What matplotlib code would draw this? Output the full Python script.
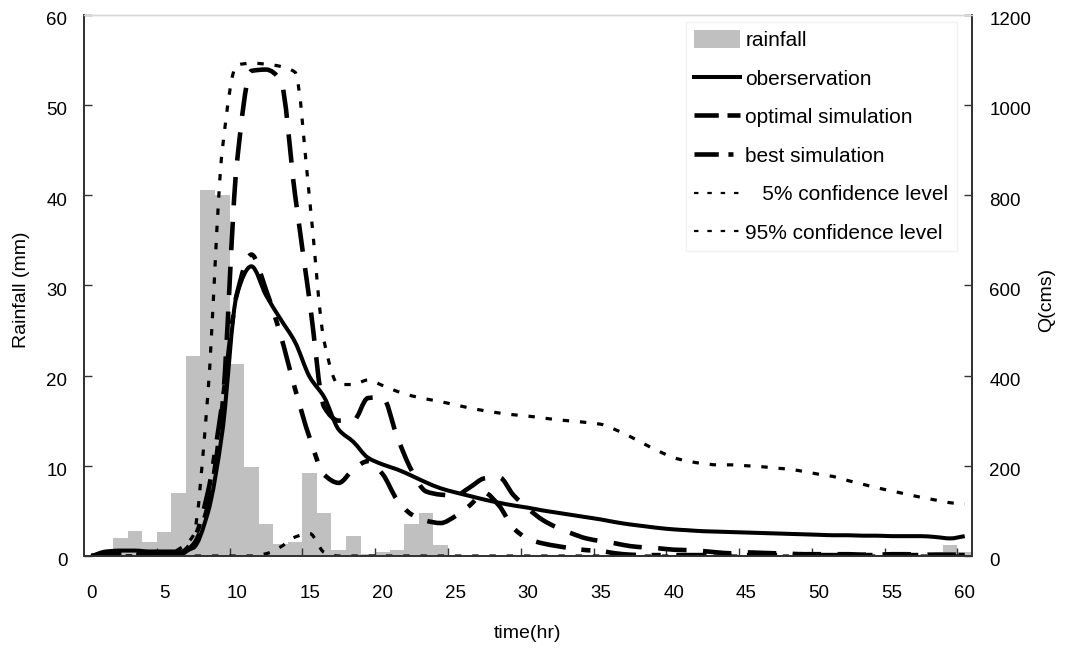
import numpy as np
import matplotlib
matplotlib.use("Agg")
import matplotlib.pyplot as plt
import matplotlib.transforms as mtransforms
from matplotlib.path import Path
from matplotlib.patches import PathPatch, Patch
from matplotlib.lines import Line2D

plt.rcParams['font.family'] = ['Liberation Sans', 'DejaVu Sans']

# hourly record, t = 0..60 hr
hours = list(range(61))

rain = [0, 0, 2.0, 2.8, 1.6, 2.7, 7.0, 22.2, 40.6, 40.0,
        21.3, 9.9, 3.5, 1.3, 1.6, 9.2, 4.8, 0.7, 2.2, 0.2,
        0.4, 0.7, 3.5, 4.8, 1.2, 0, 0, 0, 0, 0,
        0, 0, 0, 0, 0, 0, 0, 0, 0, 0,
        0, 0, 0, 0, 0, 0, 0, 0, 0, 0,
        0, 0, 0, 0, 0, 0.3, 0, 0, 0, 1.2,
        0.4]

q_obs = [0, 10, 12, 12, 10, 10, 10, 18, 95, 275,
         580, 642, 578, 525, 474, 397, 352, 280, 253, 218,
         203, 192, 178, 163, 150, 141, 133, 125, 118, 112,
         107, 101, 96, 91, 86, 81, 75, 70, 66, 62,
         59, 57, 55, 54, 53, 52, 51, 50, 49, 48,
         47, 46, 46, 45, 45, 44, 44, 44, 42, 39,
         44]

q_opt = [0, 2, 3, 3, 2, 2, 3, 25, 110, 330,
         870, 1075, 1078, 1055, 800, 565, 330, 300, 300, 350,
         352, 265, 190, 143, 136, 134, 152, 172, 175, 135,
         105, 80, 63, 50, 39, 33, 28, 22, 19, 17,
         14, 13, 11, 8, 6, 8, 7, 6, 5, 4,
         4, 4, 4, 3, 3, 4, 4, 3, 3, 3,
         3]

q_best = [0, 3, 5, 5, 5, 5, 5, 35, 140, 340,
          580, 668, 590, 490, 370, 262, 180, 162, 192, 210,
          182, 125, 92, 78, 73, 88, 112, 140, 112, 62,
          38, 28, 22, 17, 13, 11, 6, 3, 2, 2,
          2, 2, 2, 2, 2, 2, 2, 2, 2, 2,
          2, 2, 2, 2, 2, 2, 2, 2, 2, 2,
          2]

q_lo = [0, 0, 0, 0, 0, 0, 0, 0, 0, 0,
        0, 0, 5, 20, 42, 50, 8, 0, 0, 0,
        0, 0, 0, 0, 0, 0, 0, 0, 0, 0,
        0, 0, 0, 0, 0, 0, 0, 0, 0, 0,
        0, 0, 0, 0, 0, 0, 0, 0, 0, 0,
        0, 0, 0, 0, 0, 0, 0, 0, 0, 0,
        0]

q_hi = [0, 0, 0, 0, 0, 0, 15, 45, 355, 900,
        1088, 1092, 1090, 1085, 1072, 790, 475, 380, 380, 390,
        378, 365, 355, 348, 342, 335, 328, 322, 317, 313,
        310, 306, 302, 299, 296, 292, 280, 265, 248, 232,
        218, 210, 205, 202, 202, 200, 198, 195, 192, 187,
        181, 176, 167, 159, 151, 144, 137, 130, 124, 118,
        115]


def smooth_path(x, y):
    # monotone cubic through the points (no overshoot), as Bezier segments
    x = np.asarray(x, float)
    y = np.asarray(y, float)
    n = len(x)
    h = np.diff(x)
    d = np.diff(y) / h
    m = np.zeros(n)
    m[0], m[-1] = d[0], d[-1]
    for k in range(1, n - 1):
        if d[k - 1] * d[k] > 0:
            m[k] = 2 * d[k - 1] * d[k] / (d[k - 1] + d[k])
    verts = [(x[0], y[0])]
    codes = [Path.MOVETO]
    for i in range(n - 1):
        c1 = (x[i] + h[i] / 3, y[i] + m[i] * h[i] / 3)
        c2 = (x[i + 1] - h[i] / 3, y[i + 1] - m[i + 1] * h[i] / 3)
        verts += [c1, c2, (x[i + 1], y[i + 1])]
        codes += [Path.CURVE4] * 3
    return Path(verts, codes)


W, H = 1072, 653
fig = plt.figure(figsize=(W / 100, H / 100), dpi=100)
ax = fig.add_axes([84 / W, 1 - 556 / H, (972 - 84) / W, (556 - 14.5) / H])
ax2 = ax.twinx()

ax.bar(hours, rain, width=1.0, color='#c0c0c0', zorder=1)
ax.set_xlim(-0.5, 60.5)
ax.set_ylim(0, 60)
ax2.set_ylim(0, 1200)

styles = {
    'obs': dict(lw=2.9, ls='-'),
    'opt': dict(lw=3.3, ls=(0, (6.2, 3.6))),
    'best': dict(lw=3.3, ls=(0, (6.6, 3.4, 2.0, 3.4))),
    'ci': dict(lw=2.3, ls=(0, (2.0, 3.4))),
}

series = [(q_lo, 'ci'), (q_hi, 'ci'), (q_best, 'best'), (q_opt, 'opt'), (q_obs, 'obs')]
for q, key in series:
    st = styles[key]
    ax2.add_patch(PathPatch(smooth_path(hours, q), fill=False, edgecolor='black',
                            linewidth=st['lw'], linestyle=st['ls'],
                            capstyle='butt', joinstyle='round'))

# axis frame
for a in (ax, ax2):
    for side in ('left', 'right', 'bottom'):
        a.spines[side].set_color('#333333')
        a.spines[side].set_linewidth(1.3)
    a.spines['top'].set_color('#d8d8d8')
    a.spines['top'].set_linewidth(1.0)

ax.set_yticks(range(0, 61, 10))
ax2.set_yticks(range(0, 1201, 200))
ax.set_xticks(range(0, 61, 5))
ax.set_xticks([k * 5 - 0.5 for k in range(1, 13)], minor=True)
ax.tick_params(axis='x', which='major', length=0, pad=21, labelsize=13.5)
ax.tick_params(axis='x', which='minor', direction='in', length=6, width=1, color='#333333')
ax.tick_params(axis='y', direction='in', length=6, width=1, color='#333333', pad=12, labelsize=13.5)
ax2.tick_params(axis='y', direction='in', length=6, width=1, color='#333333', pad=12.5, labelsize=13.5)

# tick labels sit a little below their ticks
shift = mtransforms.ScaledTranslation(0, -4 / 100, fig.dpi_scale_trans)
for lab in ax.get_yticklabels() + ax2.get_yticklabels():
    lab.set_transform(lab.get_transform() + shift)

fig.text(22 / W, 1 - 290 / H, 'Rainfall (mm)', rotation=90, ha='center', va='center', fontsize=14)
fig.text(1047 / W, 1 - 300 / H, 'Q(cms)', rotation=90, ha='center', va='center', fontsize=14)
fig.text(528 / W, 1 - 634 / H, 'time(hr)', ha='center', va='center', fontsize=14)

handles = [
    Patch(facecolor='#c0c0c0', edgecolor='none'),
    Line2D([], [], color='black', lw=styles['obs']['lw'], ls=styles['obs']['ls']),
    Line2D([], [], color='black', lw=3.3, ls=(0, (5.3, 1.9))),
    Line2D([], [], color='black', lw=3.3, ls=(0, (5.3, 2.1, 1.1, 2.1))),
    Line2D([], [], color='black', lw=1.6, ls=(0, (2.0, 4.0))),
    Line2D([], [], color='black', lw=1.6, ls=(0, (2.0, 4.0))),
]
labels = ['rainfall', 'oberservation', 'optimal simulation', 'best simulation',
          '   5% confidence level', '95% confidence level']
leg = ax2.legend(handles, labels, loc='upper left',
                 bbox_to_anchor=(686 / W, 1 - 22 / H), bbox_transform=fig.transFigure,
                 frameon=True, fancybox=False, framealpha=1, edgecolor='#f2f2f2',
                 fontsize=15, handlelength=2.2, handleheight=0.9, handletextpad=0.25,
                 labelspacing=0.9, borderpad=0.4, borderaxespad=0)
leg.get_frame().set_linewidth(1.0)

fig.savefig('out.png', dpi=100)
